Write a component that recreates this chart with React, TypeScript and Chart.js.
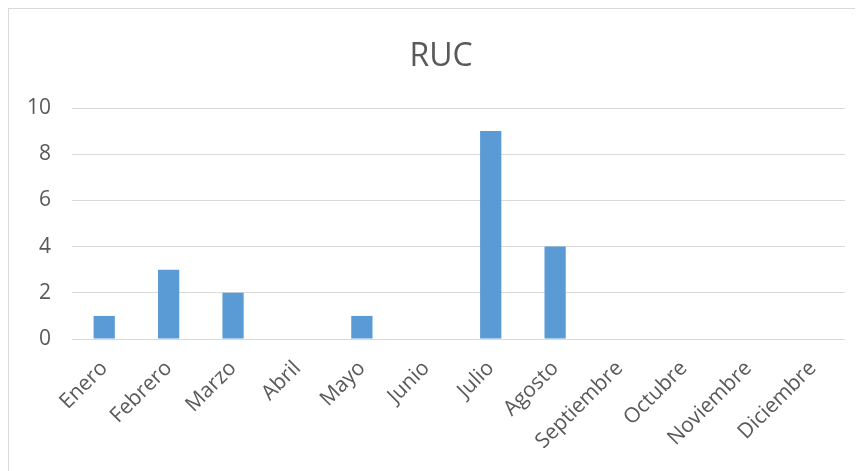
import React, { useEffect, useRef } from "react";
import { Chart, registerables } from "chart.js";

Chart.register(...registerables);

const categories = [
  "Enero", "Febrero", "Marzo", "Abril", "Mayo", "Junio",
  "Julio", "Agosto", "Septiembre", "Octubre", "Noviembre", "Diciembre",
];
const rucValues = [1, 3, 2, 0, 1, 0, 9, 4, 0, 0, 0, 0];
const yTicks = [0, 2, 4, 6, 8, 10];
const chartTitle = "RUC";

export default function App() {
  const ref = useRef<HTMLCanvasElement>(null);

  useEffect(() => {
    if (!ref.current) return;
    const chart = new Chart(ref.current, {
      type: "bar",
      data: {
        labels: categories,
        datasets: [
          {
            label: chartTitle,
            data: rucValues,
            backgroundColor: "#5B9BD5",
            borderWidth: 0,
            barPercentage: 0.33,
            categoryPercentage: 1,
          },
        ],
      },
      options: {
        responsive: false,
        animation: false,
        layout: { padding: { left: 28, right: 18, top: 0, bottom: 0 } },
        plugins: {
          legend: { display: false },
          tooltip: { enabled: false },
          title: {
            display: true,
            text: chartTitle,
            color: "#595959",
            font: { family: "'Open Sans'", size: 32, weight: "normal" },
            padding: { top: 29, bottom: 31.6 },
          },
        },
        scales: {
          x: {
            grid: { display: false },
            border: { display: false },
            ticks: {
              color: "#595959",
              font: { family: "'Open Sans'", size: 21 },
              minRotation: 45,
              maxRotation: 45,
              autoSkip: false,
              padding: 9,
            },
            afterFit: (s: any) => {
              s.height = 132;
            },
          },
          y: {
            min: 0,
            max: 10,
            afterBuildTicks: (s: any) => {
              s.ticks = yTicks.map((v) => ({ value: v }));
            },
            grid: { color: "#d9d9d9", lineWidth: 1, drawTicks: false },
            border: { display: false },
            ticks: {
              color: "#595959",
              font: { family: "'Open Sans'", size: 21 },
              padding: 21,
            },
            afterFit: (s: any) => {
              s.width = 35;
              // let tick labels extend left of the (narrow) axis box
              s._computeLabelArea = () => undefined;
            },
          },
        },
      },
    });
    return () => chart.destroy();
  }, []);

  return (
    <div
      style={{
        width: 855,
        height: 463,
        borderLeft: "1px solid #d9d9d9",
        borderTop: "1px solid #d9d9d9",
        boxSizing: "border-box",
        overflow: "hidden",
      }}
    >
      <canvas ref={ref} width={854} height={462} style={{ display: "block" }} />
    </div>
  );
}
